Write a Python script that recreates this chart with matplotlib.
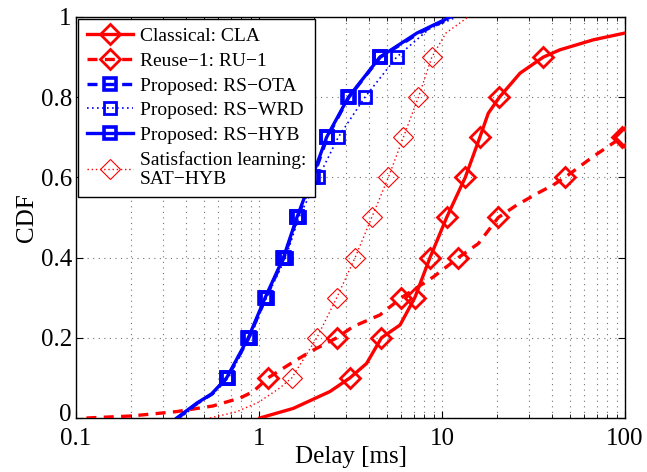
import matplotlib
matplotlib.use("Agg")
import matplotlib.pyplot as plt
import matplotlib.transforms as mtransforms
from matplotlib.lines import Line2D
import numpy as np

plt.rcParams['font.family'] = ['Liberation Serif', 'DejaVu Serif']
plt.rcParams['mathtext.fontset'] = 'stix'

# ---- data (delay in ms, CDF) ----
cla_x = [1.01, 1.54, 2.44, 3.14, 3.87, 4.67, 5.9, 7.1, 8.6, 10.6, 13.4, 16.1, 17.9, 20.6, 26.7, 35.8, 44, 67, 100]
cla_y = [0.0, 0.024, 0.066, 0.10, 0.136, 0.20, 0.232, 0.30, 0.40, 0.50, 0.60, 0.70, 0.76, 0.80, 0.86, 0.90, 0.918, 0.943, 0.96]

ru1_x = [0.114, 0.2, 0.355, 0.56, 0.79, 0.93, 1.12, 1.54, 1.9, 2.66, 3.27, 4.58, 6.0, 8.98, 12.3, 15.8, 20.3, 25.6, 34.4, 40.5, 47, 67, 96, 100]
ru1_y = [0.0, 0.005, 0.016, 0.03, 0.05, 0.066, 0.10, 0.14, 0.165, 0.20, 0.228, 0.257, 0.30, 0.352, 0.40, 0.435, 0.50, 0.531, 0.564, 0.581, 0.60, 0.652, 0.70, 0.70]

sat_x = [0.54, 0.75, 1.0, 1.3, 1.51, 2.07, 2.66, 3.35, 4.13, 5.09, 6.15, 7.43, 8.8, 10.5, 13.9]
sat_y = [0.0, 0.015, 0.04, 0.075, 0.10, 0.20, 0.30, 0.40, 0.50, 0.60, 0.70, 0.80, 0.90, 0.96, 1.0]

hyb_x = [0.355, 0.457, 0.55, 0.665, 0.874, 1.08, 1.36, 1.61, 1.95, 2.34, 3.08, 4.58, 7.3, 11.1]
hyb_y = [0.0, 0.037, 0.06, 0.10, 0.20, 0.30, 0.40, 0.50, 0.60, 0.70, 0.80, 0.90, 0.96, 1.0]

ota_x = [0.36, 0.46, 0.555, 0.67, 0.88, 1.09, 1.37, 1.62, 1.98, 2.36, 3.1, 4.6, 7.5, 11.3]
ota_y = [0.0, 0.037, 0.06, 0.10, 0.20, 0.30, 0.40, 0.50, 0.60, 0.70, 0.80, 0.90, 0.96, 1.0]

wrd_x = [0.37, 0.47, 0.56, 0.68, 0.89, 1.1, 1.4, 1.65, 2.11, 2.71, 3.79, 5.65, 8.5, 12.0]
wrd_y = [0.0, 0.037, 0.06, 0.10, 0.20, 0.30, 0.40, 0.50, 0.60, 0.70, 0.80, 0.90, 0.97, 1.0]

marker_levels = [0.1, 0.2, 0.3, 0.4, 0.5, 0.6, 0.7, 0.8, 0.9]

labels = ['Classical: CLA', 'Reuse\u22121: RU\u22121', 'Proposed: RS\u2212OTA',
          'Proposed: RS\u2212WRD', 'Proposed: RS\u2212HYB',
          'Satisfaction learning:\nSAT\u2212HYB']

RED = '#ff0000'
BLUE = '#0000ff'

fig = plt.figure(figsize=(6.47, 4.72), dpi=100)
ax = fig.add_axes([0.1175, 0.1144, 0.8485, 0.8496])

def marks(xs, ys, levels):
    # marker positions: the curve points lying on the marker CDF levels
    pts = [(x, y) for x, y in zip(xs, ys) if any(abs(y - l) < 1e-9 for l in levels)]
    return [p[0] for p in pts], [p[1] for p in pts]

styles = [
    (cla_x, cla_y, dict(color=RED, ls='-', lw=2.4), dict(marker='D', ms=10, mfc='none', mec=RED, mew=2.0)),
    (ru1_x, ru1_y, dict(color=RED, ls=(0, (3, 2.2)), lw=2.4), dict(marker='D', ms=10, mfc='none', mec=RED, mew=2.0)),
    (ota_x, ota_y, dict(color=BLUE, ls=(0, (3, 2.2)), lw=2.4), dict(marker='s', ms=9, mfc='none', mec=BLUE, mew=2.6)),
    (wrd_x, wrd_y, dict(color=BLUE, ls=(0, (1, 2)), lw=1.2), dict(marker='s', ms=9, mfc='none', mec=BLUE, mew=2.0)),
    (hyb_x, hyb_y, dict(color=BLUE, ls='-', lw=2.4), dict(marker='s', ms=9, mfc='none', mec=BLUE, mew=2.6)),
    (sat_x, sat_y, dict(color=RED, ls=(0, (1, 2)), lw=1.0), dict(marker='D', ms=10, mfc='none', mec=RED, mew=0.8)),
]

handles = []
for (xs, ys, lst, mst), lab in zip(styles, labels):
    ax.plot(xs, ys, **lst, zorder=3)
    mx, my = marks(xs, ys, marker_levels)
    ax.plot(mx, my, ls='none', **mst, zorder=4)
    handles.append(Line2D([], [], **lst, **mst))

ax.set_xscale('log')
ax.set_xlim(0.1, 100)
ax.set_ylim(0, 1)
ax.set_xticks([0.1, 1, 10, 100])
ax.set_xticklabels(['0.1', '1', '10', '100'])
ax.set_yticks([0, 0.2, 0.4, 0.6, 0.8, 1])
ax.set_yticklabels(['0', '0.2', '0.4', '0.6', '0.8', '1'])
ax.tick_params(axis='both', which='both', direction='in', top=True, right=True, labelsize=18)
ax.tick_params(axis='both', which='major', length=5)
ax.tick_params(axis='x', which='major', pad=7)
ax.tick_params(axis='y', which='major', pad=3)
ax.tick_params(axis='x', which='minor', length=3)
ax.grid(True, which='major', axis='both', color='0.45', ls=(0, (1, 4)), lw=0.8)
ax.grid(True, which='minor', axis='x', color='0.45', ls=(0, (1, 4)), lw=0.8)
for s in ax.spines.values():
    s.set_linewidth(1.0)

# nudge the "0" y tick label up a little so it does not collide with "0.1"
lab0 = ax.get_yticklabels()[0]
lab0.set_transform(lab0.get_transform() +
                   mtransforms.ScaledTranslation(0, 4 / 72, fig.dpi_scale_trans))

ax.set_xlabel('Delay [ms]', fontsize=18, labelpad=-3)
ax.set_ylabel('CDF', fontsize=18, labelpad=2)

leg = ax.legend(handles, labels, loc='upper left', fontsize=14, frameon=True,
                fancybox=False, edgecolor='black', framealpha=1, borderaxespad=0.1,
                handlelength=2.4, handletextpad=0.35, labelspacing=0.36, borderpad=0.45)
leg.get_frame().set_linewidth(1.0)

fig.savefig('out.png', dpi=100)
